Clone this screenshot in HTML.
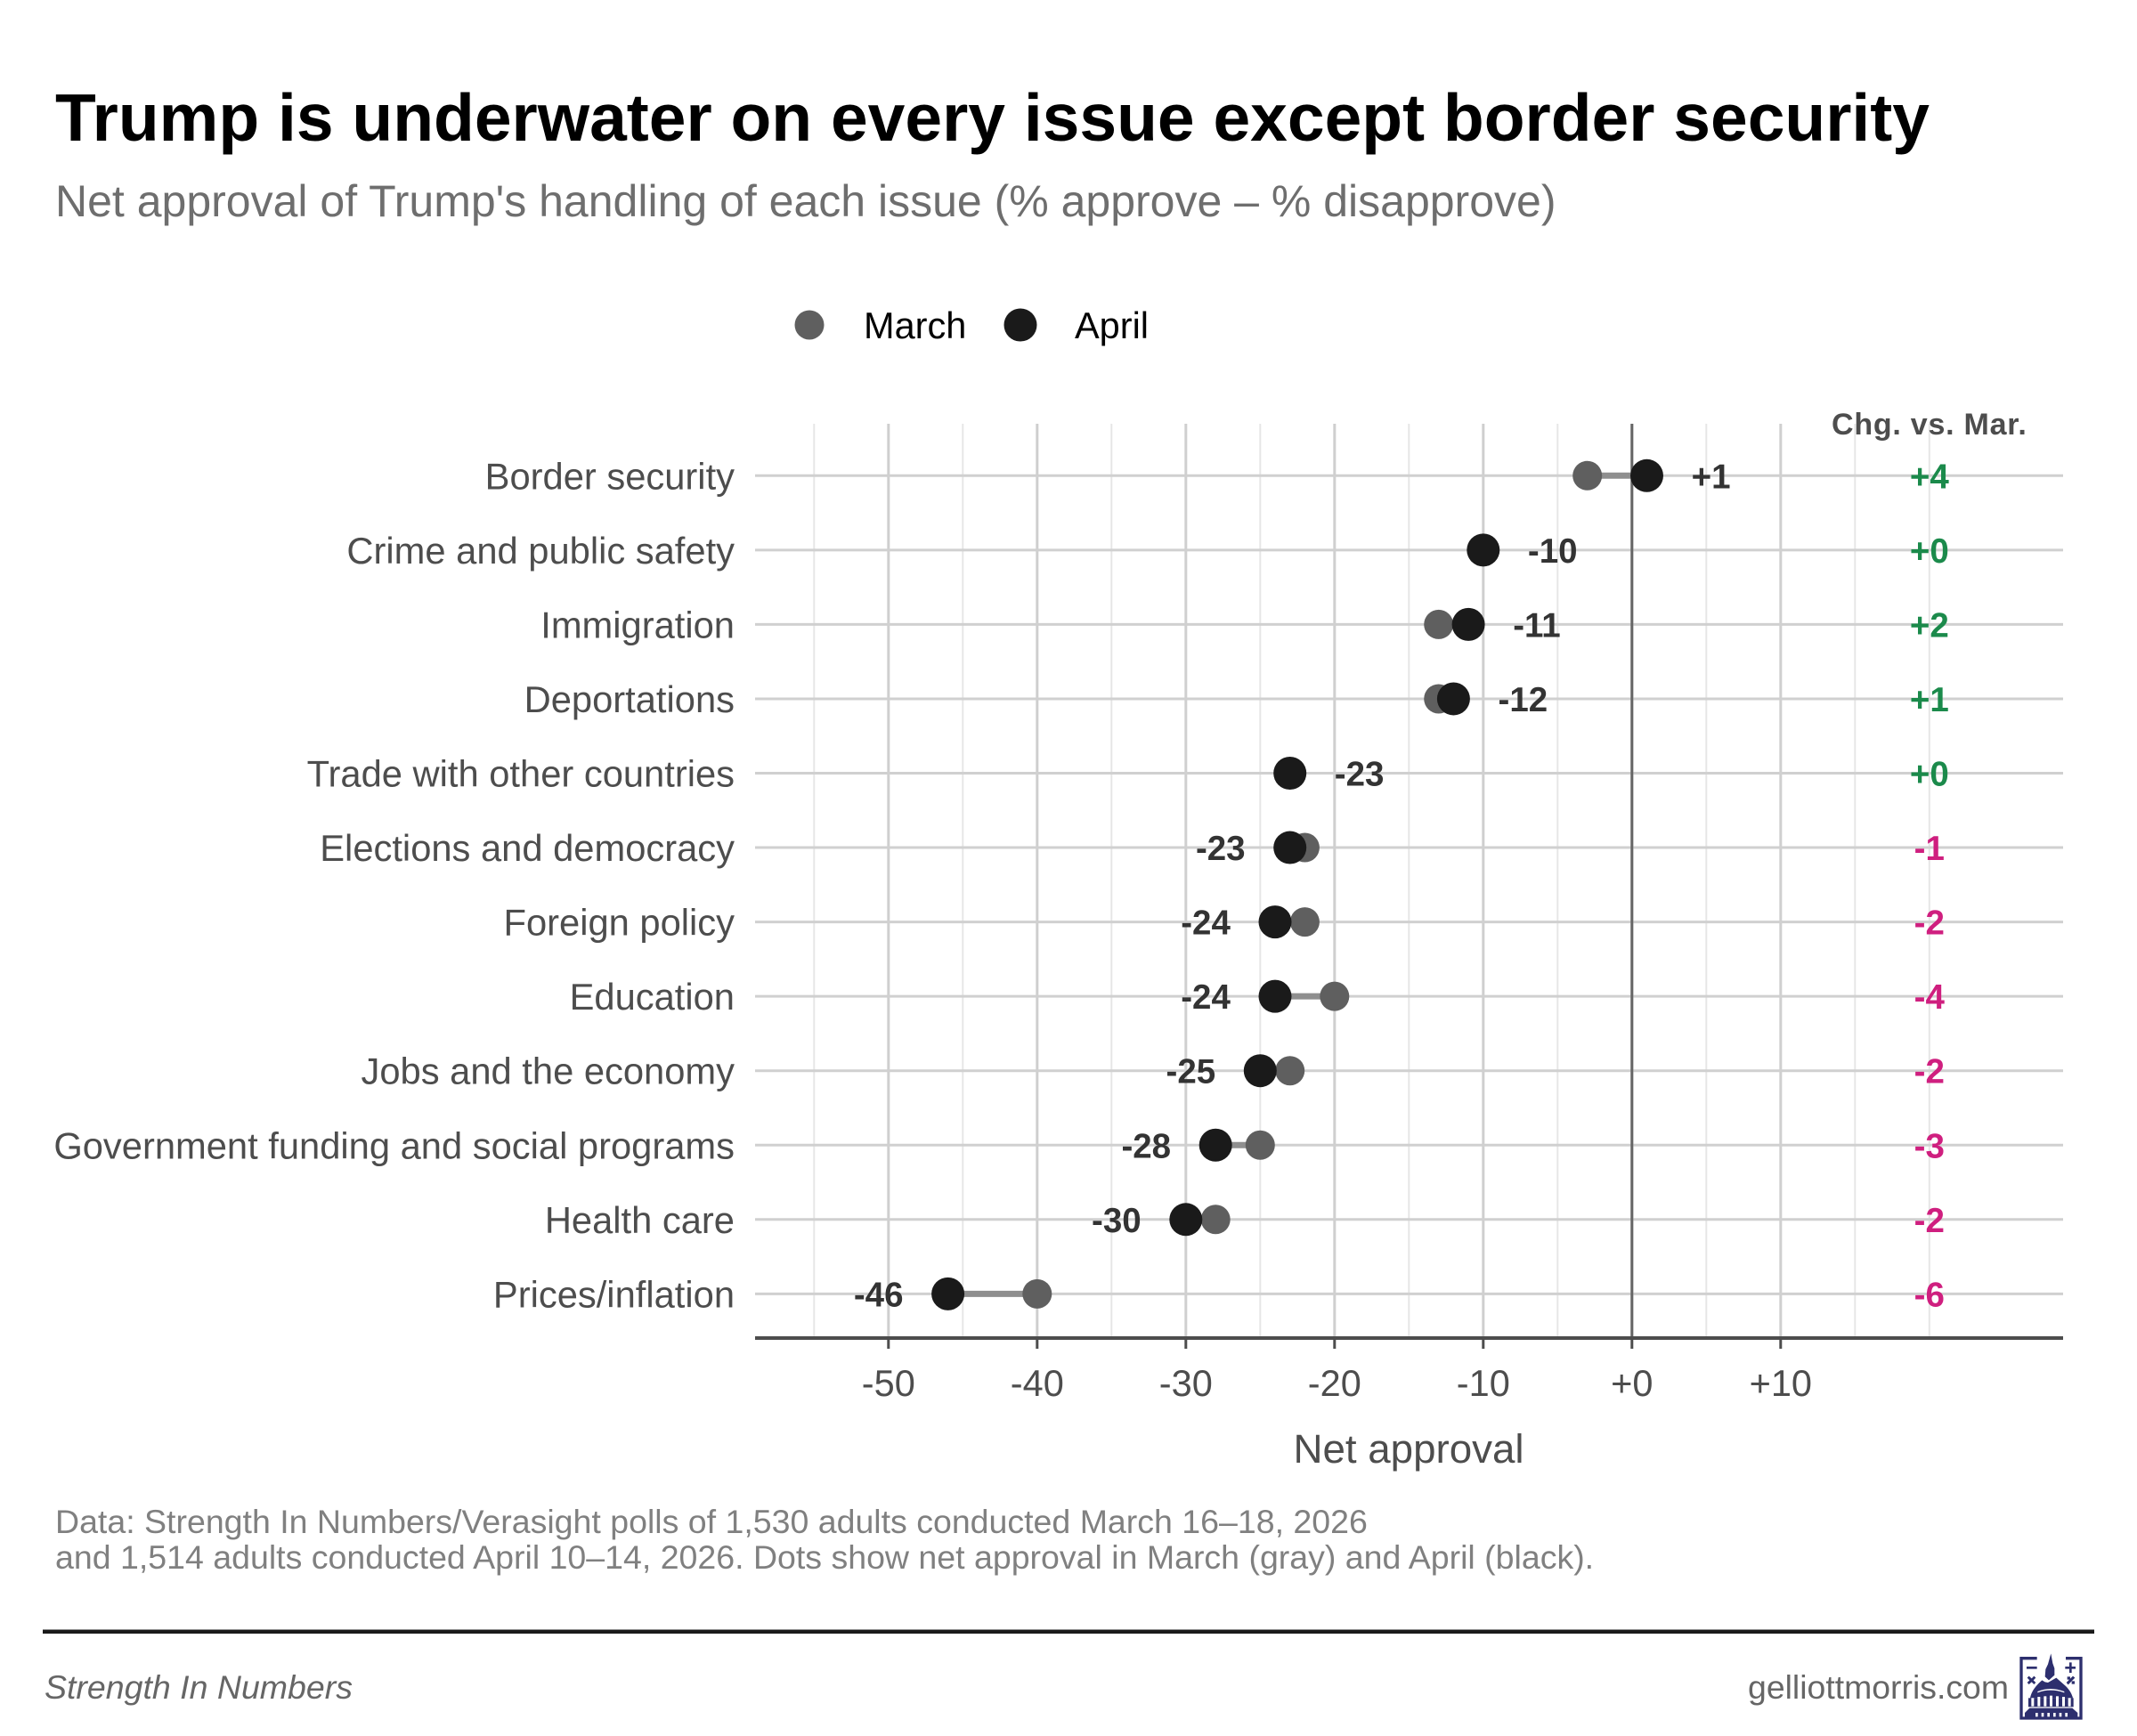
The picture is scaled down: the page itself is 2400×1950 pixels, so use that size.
<!DOCTYPE html>
<html lang="en">
<head>
<meta charset="utf-8">
<title>Trump net approval by issue</title>
<style>
html,body{margin:0;padding:0;background:#fff;}
svg{display:block;}
text{font-family:"Liberation Sans",Arial,sans-serif;}
</style>
</head>
<body>
<svg id="chart" xmlns="http://www.w3.org/2000/svg" width="2400" height="1950" viewBox="0 0 2400 1950">
  <rect x="0" y="0" width="2400" height="1950" fill="#fff"/>
  <text x="62" y="158" font-size="75" font-weight="700" fill="#000">Trump is underwater on every issue except border security</text>
  <text x="62" y="243" font-size="50" fill="#6e6e6e">Net approval of Trump's handling of each issue (% approve – % disapprove)</text>

  <g>
    <circle cx="909" cy="365" r="16.5" fill="#5f5f5f"/>
    <text x="970" y="380" font-size="41.5" fill="#000">March</text>
    <circle cx="1146" cy="365" r="18.5" fill="#1a1a1a"/>
    <text x="1207" y="380" font-size="41.5" fill="#000">April</text>
  </g>

  <g id="plot"></g>

  <text x="1582" y="1643" font-size="45.7" fill="#4d4d4d" text-anchor="middle">Net approval</text>
  <text x="62" y="1722" font-size="37.5" fill="#808080">Data: Strength In Numbers/Verasight polls of 1,530 adults conducted March 16–18, 2026</text>
  <text x="62" y="1762" font-size="37.5" fill="#808080">and 1,514 adults conducted April 10–14, 2026. Dots show net approval in March (gray) and April (black).</text>
  <rect x="48" y="1830.5" width="2304" height="4.5" fill="#1a1a1a"/>
  <text x="50" y="1908" font-size="37.5" font-style="italic" fill="#666">Strength In Numbers</text>
  <text x="2256" y="1908" font-size="37.4" fill="#666" text-anchor="end">gelliottmorris.com</text>

  <g transform="translate(2100,1800) scale(0.33333)" fill="#2d2f6e">
    <path d="M563 188H510V390H711V188H660" fill="none" stroke="#2d2f6e" stroke-width="10"/>
    <path d="M610 172L616 205L622 222L622 245L603 262L590 250L592 225L600 208Z"/>
    <path d="M540 322C545 295 565 275 580 262L590 268L600 270L628 254L660 282C674 296 681 310 684 322Z"/>
    <rect x="534" y="322" width="152" height="30"/>
    <path d="M522 390V372L538 356H682L700 372V390Z"/>
    <g fill="#fff">
      <rect x="544" y="322" width="9" height="28"/><rect x="565" y="318" width="9" height="32"/><rect x="586" y="316" width="9" height="34"/><rect x="606" y="314" width="9" height="36"/><rect x="627" y="316" width="9" height="34"/><rect x="648" y="318" width="9" height="32"/><rect x="668" y="322" width="9" height="28"/>
      <rect x="558" y="372" width="8" height="13"/><rect x="578" y="372" width="8" height="13"/><rect x="598" y="372" width="8" height="13"/><rect x="618" y="372" width="8" height="13"/><rect x="638" y="372" width="8" height="13"/><rect x="658" y="372" width="8" height="13"/>
      <path d="M565 300Q608 282 655 300L655 304Q608 288 565 304Z"/>
    </g>
    <rect x="528" y="216" width="35" height="8"/>
    <path d="M658 216H672V202H680V216H693V224H680V237H672V224H658Z"/>
    <path d="M530 254L536 248L545 256L553 248L559 254L551 262L559 270L553 276L545 268L536 276L530 270L538 262Z"/>
    <path d="M662 270L684 248L691 254L668 277Z M665 250h10v10h-10Z M680 265h10v10h-10Z"/>
  </g>
</svg>
<script>
const categories = ["Border security","Crime and public safety","Immigration","Deportations","Trade with other countries","Elections and democracy","Foreign policy","Education","Jobs and the economy","Government funding and social programs","Health care","Prices/inflation"];
const marchValues = [-3,-10,-13,-13,-23,-22,-22,-20,-23,-25,-28,-40];
const aprilValues = [1,-10,-11,-12,-23,-23,-24,-24,-25,-28,-30,-46];
const majorTicks = [-50,-40,-30,-20,-10,0,10];
const minorTicks = [-55,-45,-35,-25,-15,-5,5,15,20];

const plot = document.getElementById('plot');
const SVGNS = 'http://www.w3.org/2000/svg';
const X0 = 1832.8, XUNIT = 16.7, Y0 = 534.3, YSTEP = 83.55;
const PLOT_LEFT = 848, PLOT_RIGHT = 2317, PLOT_TOP = 476, PLOT_BOTTOM = 1503;
const xScale = v => X0 + v * XUNIT;
const yScale = i => Y0 + i * YSTEP;
const signed = v => (v >= 0 ? '+' : '') + v;

function make(tag, attrs, text) {
  const el = document.createElementNS(SVGNS, tag);
  for (const k in attrs) el.setAttribute(k, attrs[k]);
  if (text !== undefined) el.textContent = text;
  plot.appendChild(el);
  return el;
}

minorTicks.forEach(t => {
  const el = make('line', {x1: xScale(t), x2: xScale(t), y1: PLOT_TOP, y2: PLOT_BOTTOM, stroke: '#e6e6e6', 'stroke-width': 2});
  
  
});
majorTicks.forEach(t => {
  const el = make('line', {x1: xScale(t), x2: xScale(t), y1: PLOT_TOP, y2: PLOT_BOTTOM, stroke: '#cfcfcf', 'stroke-width': 3});
  
  
});
categories.forEach((c, i) => {
  const el = make('line', {x1: PLOT_LEFT, x2: PLOT_RIGHT, y1: yScale(i), y2: yScale(i), stroke: '#d0d0d0', 'stroke-width': 3});
  
  
});

const zeroLine = make('line', {x1: xScale(0), x2: xScale(0), y1: PLOT_TOP, y2: PLOT_BOTTOM, stroke: '#666', 'stroke-width': 3});



const axisLine = make('line', {x1: PLOT_LEFT, x2: PLOT_RIGHT, y1: PLOT_BOTTOM, y2: PLOT_BOTTOM, stroke: '#4d4d4d', 'stroke-width': 4});



majorTicks.forEach(t => {
  const tick = make('line', {x1: xScale(t), x2: xScale(t), y1: PLOT_BOTTOM, y2: PLOT_BOTTOM + 12, stroke: '#4d4d4d', 'stroke-width': 3});
  
  
  const label = make('text', {x: xScale(t), y: 1568, 'font-size': 41.5, fill: '#4d4d4d', 'text-anchor': 'middle'}, signed(t));
  
  
});

const header = make('text', {x: xScale(20), y: 488, 'font-size': 34, 'font-weight': 700, fill: '#4d4d4d', 'text-anchor': 'middle', 'letter-spacing': 0.75}, 'Chg. vs. Mar.');



categories.forEach((c, i) => {
  const y = yScale(i), mar = marchValues[i], apr = aprilValues[i], chg = apr - mar;

  const rowLabel = make('text', {x: 825, y: y + 15, 'font-size': 41.7, fill: '#4d4d4d', 'text-anchor': 'end'}, c);
  
  

  const link = make('line', {x1: xScale(mar), x2: xScale(apr), y1: y, y2: y, stroke: '#8f8f8f', 'stroke-width': 7});
  
  

  const marDot = make('circle', {cx: xScale(mar), cy: y, r: 16.5, fill: '#5f5f5f'});
  
  

  const aprDot = make('circle', {cx: xScale(apr), cy: y, r: 18.5, fill: '#1a1a1a'});
  
  

  const right = apr >= mar;
  const val = make('text', {x: xScale(apr + (right ? 3 : -3)), y: y + 14, 'font-size': 38.5, 'font-weight': 700, fill: '#333', 'text-anchor': right ? 'start' : 'end'}, signed(apr));
  
  

  const delta = make('text', {x: xScale(20), y: y + 14, 'font-size': 38.5, 'font-weight': 700, fill: chg >= 0 ? '#1b8a4b' : '#cf1f7f', 'text-anchor': 'middle'}, signed(chg));
  
  
});
</script>
</body>
</html>
